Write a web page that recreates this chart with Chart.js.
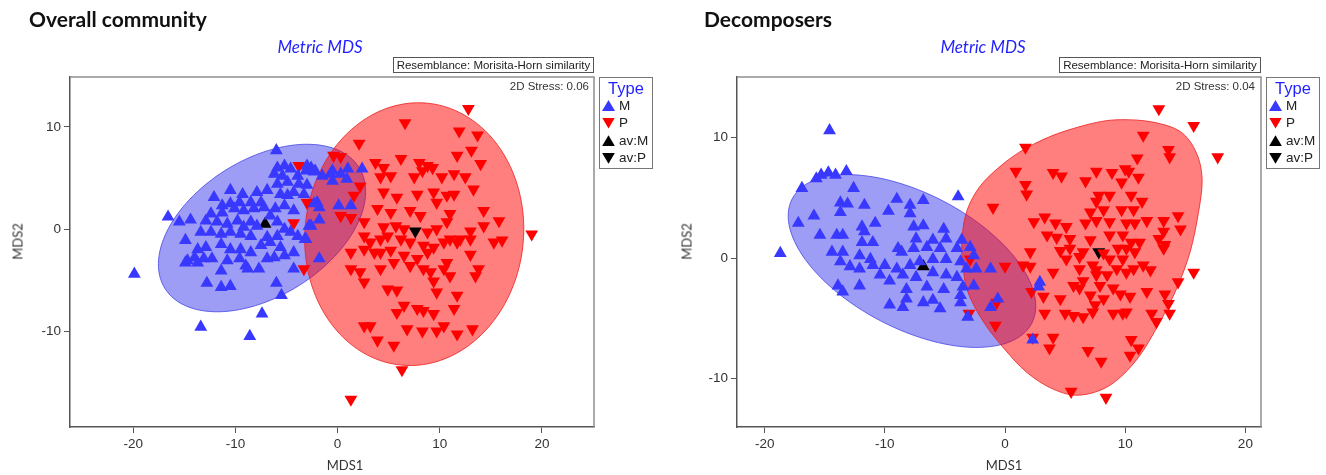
<!DOCTYPE html>
<html>
<head>
<meta charset="utf-8">
<script src="https://cdn.jsdelivr.net/npm/chart.js@4.4.0/dist/chart.umd.min.js"></script>
<style>
  body { margin: 0; background: #fff; }
  #page { position: relative; width: 1326px; height: 475px; overflow: hidden; font-family: "Liberation Sans", Arial, sans-serif; }
  canvas { position: absolute; top: 0; }
  .t { position: absolute; white-space: nowrap; line-height: 1; }
  .head { font-family: Lato, sans-serif; font-weight: bold; font-size: 21px; color: #111; }
  .sub { font-family: Lato, sans-serif; font-style: italic; font-size: 17px; color: #1f1fff; width: 200px; text-align: center; }
  .res { border: 1px solid #555; box-sizing: border-box; height: 16px; font-size: 11.5px; line-height: 14px; color: #222; text-align: center; }
  .stress { font-size: 11.5px; color: #333; }
  .legend { position: absolute; border: 1px solid #777; box-sizing: border-box; width: 54px; height: 92px; top: 77px; }
  .ltitle { font-size: 16.5px; color: #1f1fff; width: 52px; text-align: center; top: 2px; left: 0; }
  .litem { font-size: 13.5px; color: #222; left: 19px; }
  .mk { position: absolute; width: 13px; height: 11px; left: 2px; }
  .up { clip-path: polygon(50% 0, 100% 100%, 0 100%); }
  .down { clip-path: polygon(0 0, 100% 0, 50% 100%); }
  .axt { font-family: Lato, sans-serif; font-size: 13px; color: #333; width: 60px; text-align: center; }
</style>
</head>
<body>
<div id="page">
  <canvas id="overall" width="663" height="475" style="left:0"></canvas>
  <canvas id="decomp" width="663" height="475" style="left:663px"></canvas>
</div>
<script>
// ---- data (in MDS units) ----
const xTicks = [-20, -10, 0, 10, 20];
const yTicks = [-10, 0, 10];
const groups = ['M', 'P', 'av:M', 'av:P'];

const overallRangeX = [-26.2, 25.1];
const overallRangeY = [-19.4, 14.9];
const decompRangeX = [-22.3, 21.3];
const decompRangeY = [-14.05, 15.05];

const overallM = [
  [-6.0,7.7],[-16.6,1.2],[-15.5,0.7],[-14.4,0.9],[-12.1,3.1],[-10.5,3.8],[-9.3,3.4],[-13.4,-9.6],[-8.6,-10.5],
  [-7.4,-8.3],[-5.5,-6.5],[-6.0,-5.3],[-12.8,-5.3],[-11.4,-5.7],[-10.5,-5.6],[-14.9,-1.1],[-14.9,-3.3],[-13.7,-3.3],
  [2.4,5.9],[1.3,2.3],[0.1,2.3],[-1.8,0.9],[-2.6,0.3],[-1.8,-2.9],[-4.3,-3.9],[-3.2,-1.0],[-2.0,2.6],[-2.3,2.5],
  [-19.9,-4.4],[-3.1,5.7],[-2.6,6.0],[-2.2,5.7],[-0.5,5.7],[0.3,5.4],[1.0,5.9],[-0.7,5.4],[-1.8,2.1],[-2.8,0.3],[-3.1,-1.0],
  [-5.9,6.0],[-5.2,6.2],[-4.6,5.9],[-3.0,6.2],[-2.3,5.6],[-1.5,5.2],[-6.2,5.4],[-5.4,5.2],[-3.9,5.2],[-4.9,4.6],
  [-3.8,4.4],[-5.9,4.4],[-3.0,4.3],[-0.5,4.7],[0.9,4.9],
  [-7.9,3.6],[-6.9,3.8],[-5.6,3.4],[-4.9,3.3],[-4.3,3.6],[-3.3,3.4],[-7.5,2.6],[-8.5,2.6],[-9.6,2.6],[-10.5,2.5],[-11.3,2.3],
  [-12.4,1.5],[-11.3,1.6],[-10.1,2.0],[-9.2,1.8],[-8.2,2.0],[-7.2,2.1],[-6.1,2.0],[-5.2,2.3],[-4.3,1.8],[-6.6,1.3],
  [-12.9,0.8],[-11.8,0.7],[-10.8,0.5],[-9.8,0.8],[-8.5,0.7],[-7.9,0.3],[-5.9,0.7],[-5.2,0.0],[-4.6,-0.3],[-9.2,0.2],
  [-13.4,-0.3],[-12.4,-0.3],[-11.4,-0.5],[-10.5,-0.3],[-9.5,-0.5],[-8.5,-0.7],[-6.9,-0.8],[-5.9,-0.7],[-3.9,-0.7],
  [-13.7,-2.0],[-12.9,-1.8],[-11.4,-1.5],[-10.5,-2.0],[-9.5,-2.0],[-8.5,-2.3],[-7.5,-1.6],[-6.6,-1.3],[-5.6,-1.8],[-4.3,-2.3],
  [-14.7,-3.1],[-14.0,-2.8],[-13.1,-2.9],[-12.3,-2.9],[-10.8,-3.1],[-9.6,-2.9],[-9.0,-3.6],[-7.7,-3.9],[-6.9,-2.9],
  [-6.2,-2.8],[-5.2,-2.6],[-11.4,-4.1],[-8.8,-3.9]
];
const overallP = [
  [12.8,11.8],[6.6,10.4],[2.1,8.4],[19.0,-0.5],[6.3,-13.8],[1.3,-16.7],[11.9,9.6],[13.7,9.2],[11.7,7.2],[13.1,7.7],
  [14.0,6.4],[-0.4,7.2],[0.3,7.1],[-3.8,6.2],[3.7,6.5],[4.5,6.0],[6.2,6.9],[8.0,6.5],[8.8,6.2],[9.3,6.0],[8.3,5.7],
  [5.2,5.2],[4.2,5.1],[7.5,5.1],[10.2,5.1],[11.4,5.4],[12.5,5.1],[13.3,3.9],[4.5,3.6],[5.8,3.1],[7.8,3.4],[9.4,3.6],
  [10.7,3.3],[11.4,3.4],[9.7,2.6],[2.2,4.2],[1.6,3.3],[3.9,2.0],[5.2,1.6],[7.1,1.8],[8.1,1.3],[11.0,1.5],[14.3,1.8],
  [15.8,0.8],[14.3,0.3],[13.0,-0.2],[10.7,0.7],[-3.0,2.6],[-4.3,0.6],[0.3,1.3],[1.3,1.1],[2.6,0.7],[4.5,0.2],[5.7,0.3],
  [6.5,0.0],[8.8,-0.3],[9.7,0.0],[11.0,-1.0],[12.0,-1.0],[13.0,-1.0],[15.3,-1.3],[16.1,-1.1],[2.6,-0.7],[3.2,-1.3],
  [4.2,-1.0],[4.9,-0.7],[6.2,-1.0],[7.1,-1.3],[8.4,-1.6],[9.4,-1.8],[10.4,-1.3],[11.7,-1.3],[1.3,-2.3],[2.6,-2.0],
  [3.6,-2.3],[4.2,-2.3],[5.2,-2.1],[6.5,-2.6],[7.8,-2.9],[8.8,-2.3],[10.7,-3.3],[13.0,-2.5],[13.8,-3.9],[13.5,-4.6],
  [-3.3,-3.9],[1.3,-3.9],[2.2,-4.2],[2.6,-5.2],[4.2,-3.9],[5.5,-3.3],[7.1,-3.6],[8.4,-3.9],[9.1,-4.2],[10.4,-3.9],
  [11.0,-4.6],[9.4,-5.1],[9.7,-6.2],[11.7,-6.5],[4.9,-5.9],[5.8,-6.0],[6.5,-7.5],[5.8,-8.2],[7.8,-7.8],[8.4,-8.0],
  [9.4,-8.3],[11.4,-7.8],[2.6,-9.5],[3.2,-9.5],[3.9,-10.9],[5.5,-11.4],[6.8,-9.8],[8.3,-10.0],[9.7,-10.0],[10.4,-9.5],
  [11.7,-10.3],[13.2,-9.8]
];
const overallAvM = [[-7.1, 0.5]];
const overallAvP = [[7.6, -0.2]];
// ellipses: centre x, centre y, semi-axis a, semi-axis b, angle of a (degrees)
const overallEllipseM = [-7.4, 0.1, 11.2, 6.7, 31.9];
const overallEllipseP = [7.5, -0.5, 12.9, 10.7, 84];

const decompM = [
  [-14.6,10.6],[-18.7,0.4],[-3.9,5.1],[-15.7,6.6],[-15.3,6.9],[-14.7,7.1],[-14.1,6.9],[-13.2,7.2],[-16.9,5.8],[-12.6,5.8],
  [-13.7,4.6],[-13.1,4.5],[-11.7,4.4],[-13.7,3.8],[-15.9,3.5],[-17.2,2.9],[-9.7,3.9],[-9.0,4.9],[-7.9,4.4],[-6.8,4.8],
  [-7.9,3.7],[-10.8,2.9],[-11.9,2.6],[-11.7,2.2],[-15.4,1.9],[-14.0,1.9],[-13.5,1.9],[-11.0,1.3],[-11.9,1.3],[-7.6,2.6],
  [-6.8,2.7],[-5.1,2.4],[-7.4,1.6],[-6.0,1.5],[-4.9,1.6],[-3.6,1.5],[-7.6,0.8],[-6.5,0.9],[-5.4,0.8],[-4.0,0.8],
  [-2.9,0.9],[-8.9,0.8],[-8.6,0.5],[-14.4,0.5],[-13.5,0.5],[-12.1,0.2],[-11.2,-0.1],[-13.7,-0.3],[-12.9,-0.7],[-12.1,-0.9],
  [-11.0,-0.6],[-10.0,-0.6],[-9.0,-0.9],[-7.9,-0.6],[-7.1,-0.3],[-6.0,-0.1],[-4.9,-0.1],[-3.7,-0.3],[-2.6,0.2],[-2.4,-0.9],
  [-1.2,-0.9],[-3.2,-0.9],[-10.4,-1.4],[-9.6,-1.9],[-8.5,-1.4],[-7.4,-1.6],[-6.0,-1.2],[-4.9,-1.4],[-4.0,-1.6],[-3.5,-2.4],
  [-2.6,-2.3],[-12.1,-2.3],[-13.9,-2.3],[-13.5,-2.8],[-8.2,-2.6],[-6.5,-2.4],[-5.1,-2.6],[-3.7,-3.1],[-6.0,-3.5],[-8.2,-3.4],
  [-9.6,-3.9],[-8.5,-4.1],[-6.8,-3.7],[-5.4,-4.2],[-3.7,-3.7],[-3.1,-4.9],[-1.2,-4.1],[-0.6,-3.4],[2.9,-2.0],[2.8,-2.4],[2.3,-6.8]
];
const decompP = [
  [12.8,12.4],[15.7,11.0],[17.7,8.4],[11.5,10.2],[13.6,9.0],[13.7,8.4],[1.7,9.2],[11.0,8.3],[0.9,7.2],[4.0,7.1],[4.7,6.8],
  [1.7,6.1],[1.8,5.3],[-1.0,4.2],[6.7,6.4],[7.6,7.2],[8.9,7.1],[10.0,7.4],[10.3,7.2],[11.1,6.7],[9.7,6.3],[7.8,5.2],
  [8.7,5.2],[10.5,5.2],[11.4,4.7],[7.6,4.7],[8.2,4.0],[9.7,4.0],[10.7,4.0],[7.1,3.8],[8.7,3.0],[10.1,2.9],[11.8,3.1],
  [13.2,3.1],[14.4,3.5],[14.6,2.4],[13.2,2.2],[2.4,3.0],[3.3,3.4],[4.2,2.9],[5.1,2.6],[6.7,2.9],[7.6,3.1],[10.8,2.9],
  [3.5,1.9],[4.3,1.7],[5.4,1.6],[7.1,1.5],[8.7,1.9],[9.8,1.9],[11.2,1.3],[12.8,1.6],[13.3,1.1],[2.1,0.5],[4.6,0.6],
  [5.4,0.8],[6.5,0.5],[8.2,0.4],[9.4,0.8],[10.1,0.8],[10.8,0.5],[-2.9,-0.1],[0.0,-0.7],[1.5,-0.6],[2.1,-0.7],[4.0,-1.2],
  [5.1,-0.1],[6.2,0.1],[7.3,-0.6],[8.7,-0.1],[9.8,-0.1],[10.7,-0.9],[11.5,-0.6],[12.1,-1.0],[15.7,-1.2],[6.2,-0.9],
  [7.6,-1.0],[8.5,-1.4],[9.3,-0.9],[10.1,-1.2],[2.2,-2.8],[3.2,-3.2],[4.6,-3.4],[5.7,-2.3],[6.2,-2.5],[7.1,-3.1],
  [7.9,-2.3],[9.0,-2.5],[9.6,-3.0],[10.4,-3.2],[11.8,-2.8],[13.3,-3.0],[14.4,-2.0],[3.3,-4.6],[5.0,-4.6],[5.7,-4.8],
  [6.5,-4.9],[7.3,-4.5],[9.0,-4.6],[9.8,-4.6],[10.1,-4.5],[12.2,-4.6],[12.6,-5.3],[13.7,-4.6],[13.6,-3.8],[-0.7,-3.7],
  [-3.0,-4.6],[-0.8,-5.6],[2.3,-6.6],[4.0,-6.6],[3.7,-7.5],[6.9,-7.7],[8.0,-8.6],[10.5,-6.8],[10.4,-8.1],[11.1,-7.5],
  [5.5,-11.1],[8.4,-11.6],[7.5,-3.9],[8.2,-3.4],[6.5,-1.9],[7.6,-1.4],[10.5,1.3],[13.2,0.8]
];
const decompAvM = [[-6.8, -0.7]];
const decompAvP = [[7.8, 0.5]];
const decompEllipseM = [-7.74, -0.25, 11.23, 5.62, -27.4];
// outline of the P region (not an ellipse), going round from its left edge
const decompOutlineP = [
  [-3.6,1.1],[-3.3,3.5],[-2.4,5.5],[-1.0,7.1],[1.2,8.8],[4.0,10.2],[7.3,11.2],[9.6,11.5],[12.3,11.3],[14.6,10.5],
  [15.9,8.8],[16.4,6.6],[16.1,3.8],[15.4,0.5],[14.3,-2.5],[12.9,-5.3],[11.0,-8.4],[8.7,-10.6],[6.2,-11.4],[4.0,-10.9],
  [1.8,-9.5],[-0.1,-7.5],[-1.8,-5.3],[-3.1,-2.8],[-3.5,-0.6]
];

// ---- styles ----
const BLUE = '#3838ff';
const RED = '#ff0000';
const BLUE_FILL = 'rgba(60,60,235,0.5)';
const RED_FILL = 'rgba(255,0,0,0.5)';

Chart.defaults.font.family = '"Liberation Sans", Arial, sans-serif';

function toPoints(list) {
  return list.map(p => ({ x: p[0], y: p[1] }));
}

function markerSet(label, list, color, down) {
  return {
    label,
    data: toPoints(list),
    pointStyle: 'triangle',
    pointRotation: down ? 180 : 0,
    pointRadius: 7.4,
    pointBackgroundColor: color,
    pointBorderColor: color,
    pointBorderWidth: 0,
    showLine: false
  };
}

// draws the group regions under the markers, through the chart's scales
function regionsPlugin(shapes) {
  return {
    id: 'regions',
    beforeDatasetsDraw(chart) {
      const { ctx, chartArea, scales } = chart;
      const sx = v => scales.x.getPixelForValue(v);
      const sy = v => scales.y.getPixelForValue(v);
      ctx.save();
      ctx.beginPath();
      ctx.rect(chartArea.left, chartArea.top, chartArea.width, chartArea.height);
      ctx.clip();
      for (const s of shapes) {
        ctx.beginPath();
        if (s.ellipse) {
          const [cx, cy, a, b, deg] = s.ellipse;
          const f = deg * Math.PI / 180;
          for (let i = 0; i <= 120; i++) {
            const t = i / 120 * 2 * Math.PI;
            const dx = a * Math.cos(t), dy = b * Math.sin(t);
            const px = sx(cx + dx * Math.cos(f) - dy * Math.sin(f));
            const py = sy(cy + dx * Math.sin(f) + dy * Math.cos(f));
            if (i === 0) ctx.moveTo(px, py); else ctx.lineTo(px, py);
          }
        } else {
          const pts = s.outline.map(p => [sx(p[0]), sy(p[1])]);
          const n = pts.length;
          ctx.moveTo(pts[0][0], pts[0][1]);
          for (let i = 0; i < n; i++) {
            const p0 = pts[(i - 1 + n) % n], p1 = pts[i], p2 = pts[(i + 1) % n], p3 = pts[(i + 2) % n];
            ctx.bezierCurveTo(
              p1[0] + (p2[0] - p0[0]) / 6, p1[1] + (p2[1] - p0[1]) / 6,
              p2[0] - (p3[0] - p1[0]) / 6, p2[1] - (p3[1] - p1[1]) / 6,
              p2[0], p2[1]);
          }
        }
        ctx.closePath();
        ctx.fillStyle = s.fill;
        ctx.fill();
        ctx.lineWidth = 1;
        ctx.strokeStyle = s.stroke;
        ctx.stroke();
      }
      ctx.restore();
    },
    afterDatasetsDraw(chart) {
      // grey top and right edges of the frame
      const { ctx, chartArea } = chart;
      ctx.save();
      ctx.strokeStyle = '#8f8f8f';
      ctx.lineWidth = 1.5;
      ctx.beginPath();
      ctx.moveTo(chartArea.left, chartArea.top);
      ctx.lineTo(chartArea.right, chartArea.top);
      ctx.lineTo(chartArea.right, chartArea.bottom);
      ctx.stroke();
      ctx.restore();
    }
  };
}

function axisOptions(range, ticks, fit) {
  return {
    type: 'linear',
    min: range[0],
    max: range[1],
    afterBuildTicks: ax => { ax.ticks = ticks.map(v => ({ value: v })); },
    afterFit: fit,
    grid: { drawOnChartArea: false, drawTicks: true, tickLength: 6, color: '#555', lineWidth: 1 },
    border: { display: true, color: '#555', width: 1.5 },
    ticks: { color: '#333', font: { size: 13.5 }, padding: 3, maxRotation: 0, autoSkip: false, callback: v => String(v) }
  };
}

function buildChart(id, opts) {
  return new Chart(document.getElementById(id), {
    type: 'scatter',
    data: {
      datasets: [
        markerSet(groups[0], opts.m, BLUE, false),
        markerSet(groups[1], opts.p, RED, true),
        markerSet(groups[2], opts.avM, '#000', false),
        markerSet(groups[3], opts.avP, '#000', true)
      ]
    },
    options: {
      responsive: false,
      animation: false,
      events: [],
      layout: { padding: { left: 0, top: 77, right: opts.padRight, bottom: 0 } },
      plugins: { legend: { display: false }, tooltip: { enabled: false } },
      scales: {
        x: axisOptions(opts.rangeX, xTicks, ax => { ax.height = 48; }),
        y: axisOptions(opts.rangeY, yTicks, ax => { ax.width = opts.yWidth; })
      }
    },
    plugins: [regionsPlugin(opts.shapes)]
  });
}

buildChart('overall', {
  m: overallM, p: overallP, avM: overallAvM, avP: overallAvP,
  rangeX: overallRangeX, rangeY: overallRangeY, padRight: 69, yWidth: 70,
  shapes: [
    { ellipse: overallEllipseM, fill: BLUE_FILL, stroke: 'rgba(70,70,230,0.8)' },
    { ellipse: overallEllipseP, fill: RED_FILL, stroke: 'rgba(235,30,30,0.8)' }
  ]
});

buildChart('decomp', {
  m: decompM, p: decompP, avM: decompAvM, avP: decompAvP,
  rangeX: decompRangeX, rangeY: decompRangeY, padRight: 65, yWidth: 74,
  shapes: [
    { ellipse: decompEllipseM, fill: BLUE_FILL, stroke: 'rgba(70,70,230,0.8)' },
    { outline: decompOutlineP, fill: RED_FILL, stroke: 'rgba(235,30,30,0.8)' }
  ]
});

// ---- surrounding text ----
const page = document.getElementById('page');
function addText(parent, text, cls, css) {
  const d = document.createElement('div');
  d.className = 't ' + cls;
  d.textContent = text;
  Object.assign(d.style, css);
  parent.appendChild(d);
  return d;
}

function addLegend(left) {
  const box = document.createElement('div');
  box.className = 'legend';
  box.style.left = left + 'px';
  page.appendChild(box);
  addText(box, 'Type', 'ltitle', {});
  const colors = [BLUE, RED, '#000', '#000'];
  groups.forEach((g, i) => {
    const cy = 27.5 + i * 17.6;
    const mk = document.createElement('div');
    mk.className = 'mk ' + (i % 2 ? 'down' : 'up');
    mk.style.top = (cy - 5.5) + 'px';
    mk.style.background = colors[i];
    box.appendChild(mk);
    addText(box, g, 'litem', { top: (cy - 7) + 'px' });
  });
}

const panels = [
  { title: 'Overall community', titleLeft: 29, subCenter: 320, resLeft: 393, resWidth: 201, stressRight: 737,
    legendLeft: 599, xTitle: 345, yTitle: 18, stress: '2D Stress: 0.06' },
  { title: 'Decomposers', titleLeft: 704, subCenter: 983, resLeft: 1059, resWidth: 202, stressRight: 71,
    legendLeft: 1266, xTitle: 1004, yTitle: 687, stress: '2D Stress: 0.04' }
];

panels.forEach(p => {
  addText(page, p.title, 'head', { left: p.titleLeft + 'px', top: '8px' });
  addText(page, 'Metric MDS', 'sub', { left: (p.subCenter - 100) + 'px', top: '38px' });
  addText(page, 'Resemblance: Morisita-Horn similarity', 'res', { left: p.resLeft + 'px', top: '57px', width: p.resWidth + 'px' });
  addText(page, p.stress, 'stress', { right: p.stressRight + 'px', top: '81px' });
  addLegend(p.legendLeft);
  addText(page, 'MDS1', 'axt', { left: (p.xTitle - 30) + 'px', top: '459px' });
  addText(page, 'MDS2', 'axt', { left: (p.yTitle - 30) + 'px', top: '235px', transform: 'rotate(-90deg)' });
});
</script>
</body>
</html>
